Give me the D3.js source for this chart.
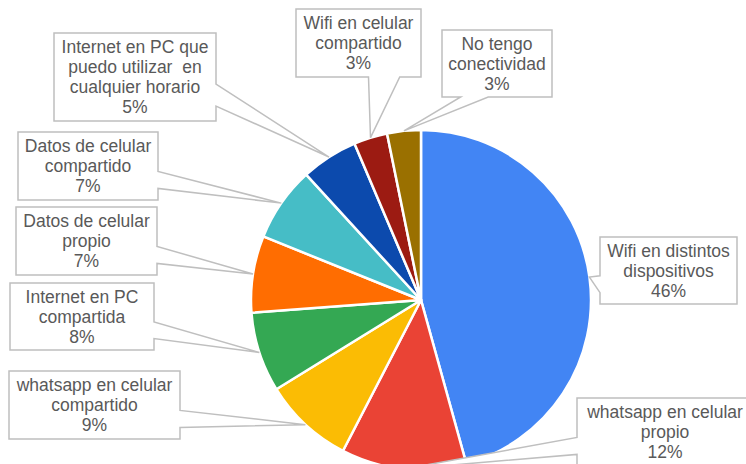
<!DOCTYPE html>
<html>
<head>
<meta charset="utf-8">
<script src="https://cdn.jsdelivr.net/npm/d3@7"></script>
<style>
  html, body { margin: 0; padding: 0; background: #ffffff; }
  svg { display: block; }
  text { font-family: "Liberation Sans", Arial, sans-serif; white-space: pre; }
</style>
</head>
<body>
<svg id="chart" width="746" height="464"></svg>
<script>
// ---- data ----
const categories = [
  "Wifi en distintos dispositivos",
  "whatsapp en celular propio",
  "whatsapp en celular compartido",
  "Internet en PC compartida",
  "Datos de celular propio",
  "Datos de celular compartido",
  "Internet en PC que puedo utilizar  en cualquier horario",
  "Wifi en celular compartido",
  "No tengo conectividad"
];
const values = [45.7, 11.9, 8.6, 7.6, 7.3, 7.1, 5.4, 3.2, 3.2];
const labelLines = [
  ["Wifi en distintos", "dispositivos"],
  ["whatsapp en celular", "propio"],
  ["whatsapp en celular", "compartido"],
  ["Internet en PC", "compartida"],
  ["Datos de celular", "propio"],
  ["Datos de celular", "compartido"],
  ["Internet en PC que", "puedo utilizar  en", "cualquier horario"],
  ["Wifi en celular", "compartido"],
  ["No tengo", "conectividad"]
];
const colors = ["#4285F4", "#EA4335", "#FBBC04", "#34A853", "#FF6D01",
                "#46BDC6", "#0C4AAD", "#9C1B12", "#9A7000"];

// ---- layout (label box positions: x, y, w, h) ----
const boxes = [
  [600, 237, 137, 67],
  [577, 398, 176, 68],
  [9, 371, 171, 68],
  [10, 283, 144, 67],
  [16, 207, 141, 68],
  [18, 132, 140, 68],
  [54, 33, 162, 88],
  [296, 9, 125, 68],
  [442, 30, 110, 67]
];

const svg = d3.select("#chart");
const cx = 421, cy = 300, r = 170;
const total = d3.sum(values);

const pie = d3.pie().sort(null).value(d => d)(values);
const arc = d3.arc().innerRadius(0).outerRadius(r);
const edge = d3.arc().innerRadius(r).outerRadius(r);

const g = svg.append("g").attr("transform", `translate(${cx},${cy})`);
g.selectAll("path.slice")
  .data(pie)
  .join("path")
  .attr("class", "slice")
  .attr("d", arc)
  .attr("fill", (d, i) => colors[i])
  .attr("stroke", "#ffffff")
  .attr("stroke-width", 2.5)
  .attr("stroke-linejoin", "round");

// ---- callouts ----
const fmt = v => Math.round(v / total * 100) + "%";
const lh = 20;

pie.forEach((d, i) => {
  const [bx, by, bw, bh] = boxes[i];
  const c = edge.centroid(d);
  const tx = c[0] + cx, ty = c[1] + cy;
  const mx = bx + bw / 2, my = by + bh / 2;
  const nx = (tx - mx) / (bw / 2), ny = (ty - my) / (bh / 2);
  let p;
  if (Math.abs(nx) > Math.abs(ny)) {
    // left or right side
    const a = ty >= my ? by + 0.58 * bh : by + 0.17 * bh;
    const b = ty >= my ? by + 0.83 * bh : by + 0.42 * bh;
    if (nx > 0) {
      const sx = bx + bw;
      p = `M${bx},${by}L${sx},${by}L${sx},${a}L${tx},${ty}L${sx},${b}L${sx},${by + bh}L${bx},${by + bh}Z`;
    } else {
      p = `M${bx},${by}L${bx + bw},${by}L${bx + bw},${by + bh}L${bx},${by + bh}L${bx},${b}L${tx},${ty}L${bx},${a}Z`;
    }
  } else {
    const a = tx >= mx ? bx + 0.58 * bw : bx + 0.17 * bw;
    const b = tx >= mx ? bx + 0.83 * bw : bx + 0.42 * bw;
    if (ny > 0) {
      const sy = by + bh;
      p = `M${bx},${by}L${bx + bw},${by}L${bx + bw},${sy}L${b},${sy}L${tx},${ty}L${a},${sy}L${bx},${sy}Z`;
    } else {
      p = `M${bx},${by}L${a},${by}L${tx},${ty}L${b},${by}L${bx + bw},${by}L${bx + bw},${by + bh}L${bx},${by + bh}Z`;
    }
  }
  svg.append("path")
    .attr("d", p)
    .attr("fill", "#ffffff")
    .attr("stroke", "#BFBFBF")
    .attr("stroke-width", 1.5)
    .attr("stroke-linejoin", "miter");

  const lines = labelLines[i].concat([fmt(values[i])]);
  const n = lines.length;
  const t = svg.append("text")
    .attr("text-anchor", "middle")
    .attr("font-size", "17.5px")
    .attr("fill", "#595959");
  lines.forEach((ln, k) => {
    t.append("tspan")
      .attr("x", mx)
      .attr("y", my + (k - (n - 1) / 2) * lh)
      .attr("dy", "0.36em")
      .text(ln);
  });
});
</script>
</body>
</html>
